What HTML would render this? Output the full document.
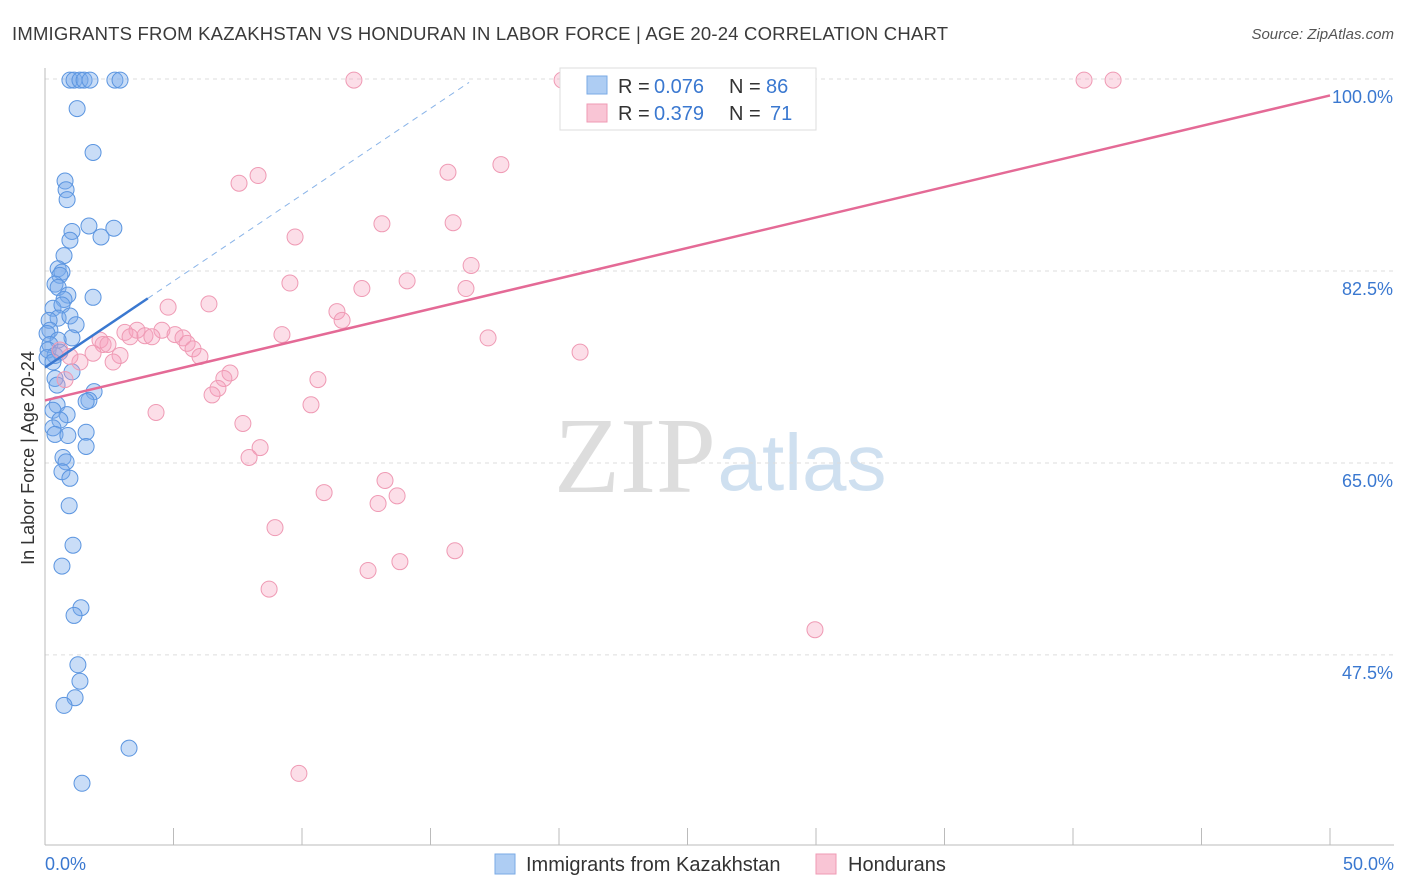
<!DOCTYPE html>
<html><head><meta charset="utf-8"><style>
body{margin:0;background:#fff;font-family:"Liberation Sans",sans-serif;}
svg{display:block}
</style></head><body>
<svg id="chart" width="1406" height="892" xmlns="http://www.w3.org/2000/svg">
<text x="12" y="40" font-size="18.5" fill="#3a3a3a" textLength="936" lengthAdjust="spacing">IMMIGRANTS FROM KAZAKHSTAN VS HONDURAN IN LABOR FORCE | AGE 20-24 CORRELATION CHART</text>
<text x="1394" y="39" font-size="15" fill="#555" font-style="italic" text-anchor="end">Source: ZipAtlas.com</text>
<g>
<text x="635" y="492" font-size="108" fill="#ddd" text-anchor="middle" font-family="Liberation Serif,serif">ZIP</text>
<text x="802" y="490" font-size="80" fill="#cfe0f0" text-anchor="middle">atlas</text>
</g>
<g id="grid"></g>
<g id="axes"></g>
<g id="marks"></g>
<g id="legend">
<rect x="560" y="68" width="256" height="62" fill="#fff" stroke="#ddd"/>
<rect x="587" y="76" width="20" height="18" fill="#aecdf3" stroke="#7aaae6"/>
<text x="618" y="93" font-size="20" fill="#333">R =</text>
<text x="654" y="93" font-size="20" fill="#3a78d0">0.076</text>
<text x="729" y="93" font-size="20" fill="#333">N =</text>
<text x="766" y="93" font-size="20" fill="#3a78d0">86</text>
<rect x="587" y="104" width="20" height="18" fill="#f9c5d5" stroke="#ef9ab4"/>
<text x="618" y="120" font-size="20" fill="#333">R =</text>
<text x="654" y="120" font-size="20" fill="#3a78d0">0.379</text>
<text x="729" y="120" font-size="20" fill="#333">N =</text>
<text x="770" y="120" font-size="20" fill="#3a78d0">71</text>
</g>
<g>
<rect x="495" y="854" width="20" height="20" fill="#aecdf3" stroke="#7aaae6"/>
<text x="526" y="871" font-size="20" fill="#333">Immigrants from Kazakhstan</text>
<rect x="816" y="854" width="20" height="20" fill="#f9c5d5" stroke="#ef9ab4"/>
<text x="848" y="871" font-size="20" fill="#333">Hondurans</text>
</g>
<text transform="translate(34,458) rotate(-90)" font-size="18" fill="#333" text-anchor="middle">In Labor Force | Age 20-24</text>
</svg>
<script>
const blueX=[0.97,1.13,1.36,1.52,1.75,2.72,2.92,1.25,1.87,0.78,0.82,0.86,1.71,2.68,1.05,2.18,0.97,0.74,0.51,0.66,0.58,0.39,0.51,0.89,1.87,0.74,0.31,0.66,0.51,0.97,0.16,1.21,0.19,0.08,1.05,0.51,0.19,0.12,0.39,0.58,0.08,0.31,1.05,0.39,0.47,1.91,1.71,1.6,0.47,0.31,0.86,0.58,0.31,0.39,0.89,1.6,1.6,0.7,0.82,0.66,0.97,0.94,1.09,0.66,1.4,1.13,1.28,1.36,1.17,0.74,3.27,1.44];
const blueY=[99.9,99.9,99.9,99.9,99.9,99.9,99.9,97.3,93.3,90.7,89.9,89.0,86.6,86.4,86.1,85.6,85.3,83.9,82.7,82.4,82.1,81.3,81.0,80.3,80.1,79.9,79.1,79.4,78.2,78.4,78.0,77.6,77.1,76.8,76.4,76.2,75.8,75.3,74.8,75.1,74.6,74.2,73.3,72.7,72.1,71.5,70.7,70.6,70.3,69.8,69.4,68.9,68.2,67.6,67.5,67.8,66.5,65.5,65.1,64.2,63.6,61.1,57.5,55.6,51.8,51.1,46.6,45.1,43.6,42.9,39.0,35.8];
const pinkX=[12.02,20.12,23.85,28.21,40.43,41.56,17.74,15.68,8.29,7.55,9.73,13.11,15.88,16.58,9.53,14.09,12.33,16.38,4.79,6.38,11.36,11.56,9.22,17.24,20.82,4.55,3.11,3.58,3.31,3.89,4.16,5.06,5.37,5.53,5.76,6.03,2.14,2.26,2.45,1.87,2.92,2.65,1.36,0.97,0.58,0.78,7.2,6.96,6.73,6.5,10.62,4.32,10.35,7.7,8.37,7.94,13.23,13.7,10.86,12.96,8.95,15.95,13.81,12.57,8.72,29.96,9.88];
const pinkY=[99.9,99.9,99.9,99.9,99.9,99.9,92.2,91.5,91.2,90.5,85.6,86.8,86.9,83.0,81.4,81.6,80.9,80.9,79.2,79.5,78.8,78.0,76.7,76.4,75.1,77.1,76.9,77.1,76.5,76.6,76.5,76.7,76.4,75.9,75.4,74.7,76.2,75.8,75.8,75.0,74.8,74.2,74.2,74.7,75.3,72.6,73.2,72.7,71.8,71.2,72.6,69.6,70.3,68.6,66.4,65.5,63.4,62.0,62.3,61.3,59.1,57.0,56.0,55.2,53.5,49.8,36.7];
const yTicks=[100,82.5,65,47.5];
const yTickLabels=["100.0%","82.5%","65.0%","47.5%"];
const xTickLabels=["0.0%","50.0%"];
const blueTrend=[73.7,1.575];
const pinkTrend=[70.7,0.556];
const NS="http://www.w3.org/2000/svg";
const X=v=>45+v*25.7, Y=v=>79+(100-v)*10.97;
function mk(t,a,p){const e=document.createElementNS(NS,t);for(const k in a)e.setAttribute(k,a[k]);p.appendChild(e);return e;}
const grid=document.getElementById('grid'),axes=document.getElementById('axes'),marks=document.getElementById('marks');
yTicks.forEach((t,i)=>{
 const l=mk('line',{x1:45,x2:1394,y1:Y(t),y2:Y(t),stroke:'#ddd','stroke-dasharray':'4,4'},grid);
 
 
 const tx=mk('text',{x:1393,y:Y(t)+24,'font-size':18,fill:'#3a78d0','text-anchor':'end'},axes);
 tx.textContent=yTickLabels[i];
 
 
});
mk('line',{x1:45,x2:45,y1:68,y2:845,stroke:'#bbb'},axes);
mk('line',{x1:45,x2:1394,y1:845,y2:845,stroke:'#bbb'},axes);
for(let i=0;i<=10;i++){const t=mk('line',{x1:X(i*5),x2:X(i*5),y1:828,y2:845,stroke:'#bbb'},axes);}
[[0,'start',45],[1,'end',1394]].forEach(([i,a,x])=>{const t=mk('text',{x:x,y:870,'font-size':18,fill:'#3a78d0','text-anchor':a},axes);t.textContent=xTickLabels[i];});
blueX.forEach((x,i)=>{const c=mk('circle',{cx:X(x),cy:Y(blueY[i]),r:8,fill:'rgba(120,170,235,0.4)',stroke:'#5b95e0','stroke-width':1},marks);});
pinkX.forEach((x,i)=>{const c=mk('circle',{cx:X(x),cy:Y(pinkY[i]),r:8,fill:'rgba(245,160,190,0.35)',stroke:'#ef9ab4','stroke-width':1},marks);});
const pl=mk('line',{x1:X(0),y1:Y(pinkTrend[0]),x2:X(50),y2:Y(pinkTrend[0]+50*pinkTrend[1]),stroke:'#e46a96','stroke-width':2.5},marks);

const bd=mk('line',{x1:X(4),y1:Y(blueTrend[0]+4*blueTrend[1]),x2:X(16.5),y2:Y(blueTrend[0]+16.5*blueTrend[1]),stroke:'#8ab4e8','stroke-width':1,'stroke-dasharray':'6,5'},marks);

const bl=mk('line',{x1:X(0),y1:Y(blueTrend[0]),x2:X(4),y2:Y(blueTrend[0]+4*blueTrend[1]),stroke:'#3a78d0','stroke-width':2.5},marks);

</script>
</body></html>
